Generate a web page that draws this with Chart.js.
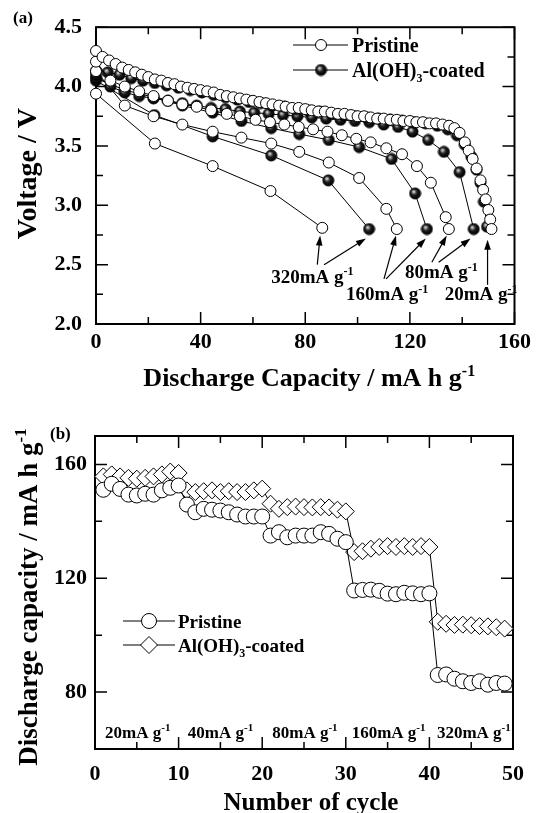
<!DOCTYPE html>
<html><head><meta charset="utf-8">
<script src="https://cdn.jsdelivr.net/npm/chart.js@4.4.0/dist/chart.umd.min.js"></script>
<style>
html,body{margin:0;padding:0;background:#fff;overflow:hidden;}
#wa{position:absolute;left:0;top:0;width:536px;height:400px;}
#wb{position:absolute;left:0;top:400px;width:536px;height:413px;}
</style></head><body>
<div id="wa"><canvas id="ca"></canvas></div>
<div id="wb"><canvas id="cb"></canvas></div>
<script>
// ================= Panel (a): discharge curves =================
const capP20 = [0,2.5,5,7.5,10,12.5,15,17.5,20,22.5,25,27.5,30,32.5,35,37.5,40,42.5,45,47.5,50,52.5,55,57.5,60,62.5,65,67.5,70,72.5,75,77.5,80,82.5,85,87.5,90,92.5,95,97.5,100,102.5,105,107.5,110,112.5,115,117.5,120,122.5,125,127.5,130,132.5,135,137,139,141,142.5,144,145.5,147,148,149,150,150.7,151.2];
const vP20   = [4.30,4.25,4.22,4.19,4.16,4.14,4.12,4.10,4.08,4.06,4.05,4.03,4.02,4.00,3.99,3.98,3.97,3.96,3.95,3.93,3.92,3.91,3.90,3.89,3.88,3.87,3.86,3.85,3.84,3.83,3.82,3.82,3.81,3.80,3.79,3.79,3.78,3.77,3.77,3.76,3.75,3.75,3.74,3.73,3.73,3.72,3.72,3.71,3.71,3.70,3.70,3.69,3.69,3.68,3.67,3.65,3.61,3.53,3.46,3.39,3.31,3.21,3.13,3.05,2.96,2.88,2.80];
const capC20 = [0,4.5,9,13.5,18,22.5,27,31.5,36,40.5,45,49.5,54,58.5,63,67.5,72,76.5,81,85.5,90,94.5,99,103.5,108,112.5,117,121.5,126,130.5,134.5,138,141,143.5,145.5,147,148.3,149.5];
const vC20   = [4.13,4.12,4.10,4.07,4.05,4.03,4.01,3.99,3.97,3.95,3.93,3.91,3.89,3.87,3.86,3.84,3.83,3.81,3.80,3.79,3.77,3.76,3.75,3.74,3.73,3.72,3.71,3.70,3.69,3.67,3.64,3.59,3.51,3.41,3.30,3.19,3.03,2.82];
const capP80 = [0,5.5,11,16.5,22,27.5,33,38.5,44,50,55,61,66.5,72,77.5,83,88.5,94,99.5,105,111,117,122.7,128,133.7,134.9];
const vP80   = [4.21,4.05,4.00,3.96,3.92,3.88,3.85,3.83,3.80,3.77,3.75,3.72,3.70,3.68,3.66,3.64,3.62,3.59,3.56,3.53,3.48,3.43,3.33,3.19,2.90,2.80];
const capC80 = [0,5.5,11,16.5,22,27.5,33,38.5,44,49.5,55,60.5,66,71.5,77,82.5,88,93.5,99,104.5,110,115.5,121,127,133,139,144.4];
const vC80   = [4.10,4.00,3.95,3.92,3.90,3.88,3.86,3.84,3.82,3.81,3.79,3.78,3.77,3.76,3.75,3.74,3.73,3.72,3.71,3.70,3.68,3.66,3.62,3.55,3.45,3.28,2.80];
const capP160 = [0,11,22,33,44.6,55.6,67,77.7,89,100.6,111,115];
const vP160   = [4.13,3.84,3.75,3.68,3.62,3.57,3.52,3.45,3.36,3.23,2.97,2.80];
const capC160 = [0,11,22,33,44.6,55.6,67,77.7,89,100.6,113,122,126.5];
const vC160   = [4.07,3.97,3.91,3.84,3.78,3.71,3.65,3.60,3.55,3.49,3.39,3.10,2.80];
const capP320 = [0,22.5,44.6,66.7,86.5];
const vP320   = [3.94,3.52,3.33,3.12,2.81];
const capC320 = [0,22.3,44.6,67,88.8,104.4];
const vC320   = [4.05,3.76,3.58,3.42,3.21,2.80];
const rateLabelsA = ['320mA g','160mA g','80mA g','20mA g'];

// ================= Panel (b): rate capability =================
const cyclesP = [1,2,3,4,5,6,7,8,9,10,11,12,13,14,15,16,17,18,19,20,21,22,23,24,25,26,27,28,29,30,31,32,33,34,35,36,37,38,39,40,41,42,43,44,45,46,47,48,49];
const capPristine = [151.1,153.2,151.4,149.4,149.1,149.7,149.4,150.9,151.8,152.6,
  145.9,143.2,144.4,144.1,143.8,143.2,142.4,141.7,141.7,141.7,
  135.0,136.2,134.4,135.0,135.0,135.0,136.2,135.6,133.9,132.7,
  115.7,115.9,116.0,115.6,114.6,114.4,114.9,114.7,114.4,114.7,
  86.0,86.2,84.7,83.8,83.2,83.8,82.6,83.2,83.0];
const cyclesC = [1,2,3,4,5,6,7,8,9,10,11,12,13,14,15,16,17,18,19,20,21,22,23,24,25,26,27,28,29,30,31,32,33,34,35,36,37,38,39,40,41,42,43,44,45,46,47,48,49];
const capCoated = [155.8,156.5,155.8,155.3,155.0,155.3,155.8,156.5,157.5,157.0,
  150.9,150.3,150.6,150.9,150.3,150.6,150.3,150.3,150.9,151.5,
  146.2,144.4,145.0,145.2,145.0,144.9,145.0,144.9,144.1,143.5,
  129.2,129.5,130.4,131.0,131.3,131.0,131.3,131.0,131.3,131.0,
  104.7,104.0,103.6,103.7,103.5,103.2,103.1,102.8,102.3];
const rateLabelsB = ['20mA g','40mA g','80mA g','160mA g','320mA g'];

// ================= helpers =================
const FONT = '"Liberation Serif", "Times New Roman", serif';
Chart.defaults.font.family = FONT;
Chart.defaults.color = '#000';
const pts = (xs, ys) => xs.map((x, i) => ({x: x, y: ys[i]}));

function rich(ctx, parts, x, y, size, align) {
  ctx.save();
  const fs = p => p[1] ? Math.round(size * 0.62) : size;
  let total = 0;
  const ws = parts.map(p => { ctx.font = 'bold ' + fs(p) + 'px ' + FONT; const w = ctx.measureText(p[0]).width; total += w; return w; });
  let cx = align === 'center' ? x - total / 2 : (align === 'right' ? x - total : x);
  ctx.textAlign = 'left'; ctx.textBaseline = 'alphabetic'; ctx.fillStyle = '#000';
  parts.forEach((p, i) => {
    ctx.font = 'bold ' + fs(p) + 'px ' + FONT;
    let dy = 0;
    if (p[1] === 'sup') dy = -size * 0.40; else if (p[1] === 'sub') dy = size * 0.25;
    ctx.fillText(p[0], cx, y + dy);
    cx += ws[i];
  });
  ctx.restore();
}

function makeSphere(r) {
  const c = document.createElement('canvas');
  const s = Math.ceil(r * 2 + 2); c.width = s; c.height = s;
  const g = c.getContext('2d');
  const cx = s / 2, cy = s / 2;
  const grad = g.createRadialGradient(cx - r * 0.3, cy - r * 0.35, 0, cx - r * 0.1, cy - r * 0.1, r * 1.05);
  grad.addColorStop(0, '#f4f4f4');
  grad.addColorStop(0.22, '#9a9a9a');
  grad.addColorStop(0.5, '#202020');
  grad.addColorStop(1, '#000');
  g.fillStyle = grad; g.beginPath(); g.arc(cx, cy, r, 0, Math.PI * 2); g.fill();
  g.lineWidth = 1; g.strokeStyle = '#000'; g.stroke();
  return c;
}

function drawFrame(chart, t) {
  const {ctx, chartArea: a, scales: {x, y}} = chart;
  ctx.save();
  ctx.strokeStyle = '#000';
  ctx.lineWidth = 1.5;
  ctx.beginPath();
  const tx = (v, L) => { const p = x.getPixelForValue(v); ctx.moveTo(p, a.bottom); ctx.lineTo(p, a.bottom - L); ctx.moveTo(p, a.top); ctx.lineTo(p, a.top + L); };
  const ty = (v, L) => { const p = y.getPixelForValue(v); ctx.moveTo(a.left, p); ctx.lineTo(a.left + L, p); ctx.moveTo(a.right, p); ctx.lineTo(a.right - L, p); };
  t.xMajor.forEach(v => tx(v, 12)); t.xMinor.forEach(v => tx(v, 7));
  t.yMajor.forEach(v => ty(v, 12)); t.yMinor.forEach(v => ty(v, 7));
  ctx.stroke();
  ctx.lineWidth = 2;
  ctx.strokeRect(a.left, a.top, a.right - a.left, a.bottom - a.top);
  ctx.restore();
}

function arrow(ctx, x1, y1, x2, y2) {
  const ang = Math.atan2(y2 - y1, x2 - x1), L = 10, W = 3.3;
  ctx.beginPath(); ctx.moveTo(x1, y1); ctx.lineTo(x2 - L * 0.7 * Math.cos(ang), y2 - L * 0.7 * Math.sin(ang)); ctx.stroke();
  ctx.beginPath(); ctx.moveTo(x2, y2);
  ctx.lineTo(x2 - L * Math.cos(ang) + W * Math.sin(ang), y2 - L * Math.sin(ang) - W * Math.cos(ang));
  ctx.lineTo(x2 - L * Math.cos(ang) - W * Math.sin(ang), y2 - L * Math.sin(ang) + W * Math.cos(ang));
  ctx.closePath(); ctx.fill();
}

const sphere = makeSphere(5.5);
const sphereLeg = makeSphere(5.5);

// annotation positions (data units) for panel (a)
const arrowsA = [[84.6,2.50,85.7,2.745],[87.2,2.50,103.2,2.72],[110.1,2.38,114.7,2.745],[110.9,2.38,126.1,2.72],[128.4,2.52,134.1,2.745],[131.0,2.52,143.2,2.72],[149.7,2.33,149.7,2.71]];
const labelPosA = [[67,2.345],[95.6,2.20],[118.1,2.385],[133.3,2.20]];

const pluginA = {
  id: 'pa',
  beforeDatasetsDraw(chart) {
    drawFrame(chart, {xMajor:[0,40,80,120,160], xMinor:[20,60,100,140], yMajor:[2,2.5,3,3.5,4,4.5], yMinor:[2.25,2.75,3.25,3.75,4.25]});
  },
  afterDraw(chart) {
    const {ctx, chartArea: a, scales: {x, y}} = chart;
    rich(ctx, [['(a)']], 13, 23, 17, 'left');
    ctx.save(); ctx.translate(36, (a.top + a.bottom) / 2 - 2); ctx.rotate(-Math.PI / 2);
    rich(ctx, [['Voltage / V']], 0, 0, 28, 'center'); ctx.restore();
    rich(ctx, [['Discharge Capacity / mA h g'], ['-1', 'sup']], (a.left + a.right) / 2 + 4, 386, 26, 'center');
    // legend
    ctx.save(); ctx.strokeStyle = '#000'; ctx.lineWidth = 1;
    ctx.beginPath(); ctx.moveTo(293, 45); ctx.lineTo(348, 45); ctx.moveTo(293, 70); ctx.lineTo(348, 70); ctx.stroke();
    ctx.fillStyle = '#fff'; ctx.beginPath(); ctx.arc(321, 45, 5.5, 0, Math.PI * 2); ctx.fill(); ctx.stroke();
    ctx.drawImage(sphereLeg, 321 - sphereLeg.width / 2, 70 - sphereLeg.height / 2);
    ctx.restore();
    rich(ctx, [['Pristine']], 352, 52, 20, 'left');
    rich(ctx, [['Al(OH)'], ['3', 'sub'], ['-coated']], 352, 77, 20, 'left');
    // arrows
    ctx.save(); ctx.strokeStyle = '#000'; ctx.fillStyle = '#000'; ctx.lineWidth = 1.2;
    arrowsA.forEach(r => arrow(ctx, x.getPixelForValue(r[0]), y.getPixelForValue(r[1]), x.getPixelForValue(r[2]), y.getPixelForValue(r[3])));
    ctx.restore();
    rateLabelsA.forEach((t, i) => rich(ctx, [[t], ['-1', 'sup']], x.getPixelForValue(labelPosA[i][0]), y.getPixelForValue(labelPosA[i][1]), 19, 'left'));
  }
};

const lineBase = {showLine: true, borderColor: '#000', borderWidth: 1, pointBorderColor: '#000', pointBorderWidth: 1, clip: false};
function pristineA(xs, ys) { return Object.assign({}, lineBase, {data: pts(xs, ys), pointStyle: 'circle', pointRadius: 5.5, pointBackgroundColor: '#fff', order: 0}); }
function coatedA(xs, ys) { return Object.assign({}, lineBase, {data: pts(xs, ys), pointStyle: sphere, pointRadius: 5.5, pointBackgroundColor: '#000', order: 1}); }

new Chart(document.getElementById('ca'), {
  type: 'scatter',
  data: {datasets: [
    pristineA(capP20, vP20), pristineA(capP80, vP80), pristineA(capP160, vP160), pristineA(capP320, vP320),
    coatedA(capC20, vC20), coatedA(capC80, vC80), coatedA(capC160, vC160), coatedA(capC320, vC320)
  ]},
  options: {
    responsive: true, maintainAspectRatio: false, animation: false, devicePixelRatio: 1,
    layout: {padding: {top: 16, right: 21, left: 0, bottom: 0}},
    plugins: {legend: {display: false}, tooltip: {enabled: false}},
    scales: {
      x: {type: 'linear', min: 0, max: 160, grid: {display: false, drawTicks: false}, border: {display: false},
          ticks: {stepSize: 40, padding: 5, font: {size: 22, weight: 'bold'}, color: '#000'},
          afterFit: s => { s.height = 76; }},
      y: {type: 'linear', min: 2.0, max: 4.5, grid: {display: false, drawTicks: false}, border: {display: false},
          ticks: {stepSize: 0.5, padding: 14, font: {size: 22, weight: 'bold'}, color: '#000', callback: v => Number(v).toFixed(1)},
          afterFit: s => { s.width = 96; }}
    }
  },
  plugins: [pluginA]
});

// ---------- panel (b) ----------
const labelXB = [1.2, 11.1, 21.2, 30.7, 40.9];
const pluginB = {
  id: 'pb',
  beforeDatasetsDraw(chart) {
    drawFrame(chart, {xMajor:[0,10,20,30,40,50], xMinor:[5,15,25,35,45], yMajor:[80,120,160], yMinor:[100,140]});
  },
  afterDraw(chart) {
    const {ctx, chartArea: a, scales: {x, y}} = chart;
    rich(ctx, [['(b)']], 50, 39, 17, 'left');
    ctx.save(); ctx.translate(37, 197); ctx.rotate(-Math.PI / 2);
    rich(ctx, [['Discharge capacity / mA h g'], ['-1', 'sup']], 0, 0, 27, 'center'); ctx.restore();
    rich(ctx, [['Number of cycle']], 311, 410, 25, 'center');
    // legend
    ctx.save(); ctx.strokeStyle = '#000'; ctx.lineWidth = 1; ctx.fillStyle = '#fff';
    ctx.beginPath(); ctx.moveTo(123, 221); ctx.lineTo(175, 221); ctx.moveTo(123, 245); ctx.lineTo(175, 245); ctx.stroke();
    ctx.beginPath(); ctx.arc(149, 221, 7.5, 0, Math.PI * 2); ctx.fill(); ctx.stroke();
    ctx.beginPath(); ctx.moveTo(149, 245 - 8.5); ctx.lineTo(157.5, 245); ctx.lineTo(149, 245 + 8.5); ctx.lineTo(140.5, 245); ctx.closePath(); ctx.fill(); ctx.stroke();
    ctx.restore();
    rich(ctx, [['Pristine']], 178, 228, 19, 'left');
    rich(ctx, [['Al(OH)'], ['3', 'sub'], ['-coated']], 178, 252, 19, 'left');
    rateLabelsB.forEach((t, i) => rich(ctx, [[t], ['-1', 'sup']], x.getPixelForValue(labelXB[i]), 338, 17, 'left'));
  }
};

new Chart(document.getElementById('cb'), {
  type: 'scatter',
  data: {datasets: [
    Object.assign({}, lineBase, {data: pts(cyclesP, capPristine), pointStyle: 'circle', pointRadius: 7.5, pointBackgroundColor: '#fff', order: 0}),
    Object.assign({}, lineBase, {data: pts(cyclesC, capCoated), pointStyle: 'rectRot', pointRadius: 8.5, pointBackgroundColor: '#fff', order: 1})
  ]},
  options: {
    responsive: true, maintainAspectRatio: false, animation: false, devicePixelRatio: 1,
    layout: {padding: {top: 36, right: 14, left: 0, bottom: 0}},
    plugins: {legend: {display: false}, tooltip: {enabled: false}},
    scales: {
      x: {type: 'linear', min: 0, max: 50, grid: {display: false, drawTicks: false}, border: {display: false},
          ticks: {stepSize: 10, padding: 12, font: {size: 22, weight: 'bold'}, color: '#000'},
          afterFit: s => { s.height = 64; }},
      y: {type: 'linear', min: 60, max: 170, grid: {display: false, drawTicks: false}, border: {display: false},
          ticks: {padding: 8, font: {size: 22, weight: 'bold'}, color: '#000'},
          afterBuildTicks: s => { s.ticks = [80, 120, 160].map(v => ({value: v})); },
          afterFit: s => { s.width = 95; }}
    }
  },
  plugins: [pluginB]
});
</script>
</body></html>
